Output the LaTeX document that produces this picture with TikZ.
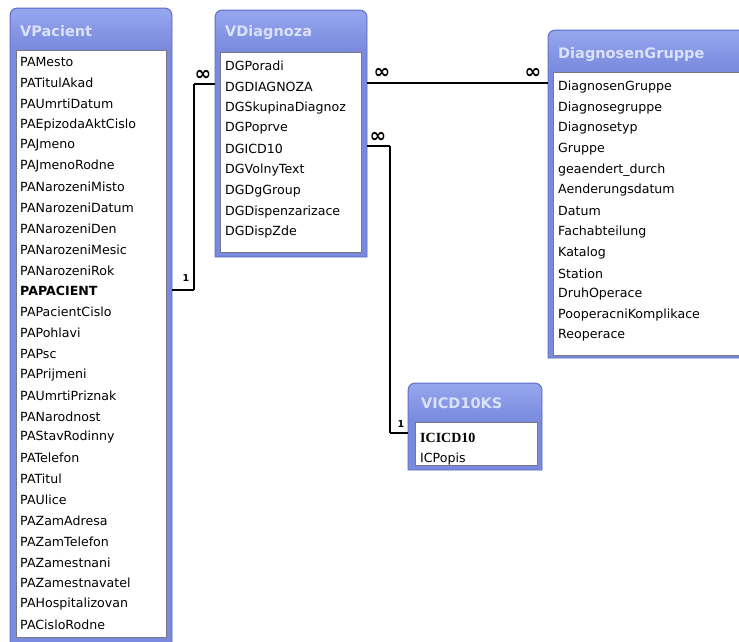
\documentclass[tikz,border=0pt]{standalone}
\usepackage{fontspec}
\setmainfont{DejaVu Sans}
\newfontfamily\serifface{Liberation Serif}
\usetikzlibrary{calc}
\definecolor{frameblue}{RGB}{122,138,222}
\definecolor{framedark}{RGB}{92,108,196}
\definecolor{titletop}{RGB}{150,166,238}
\definecolor{titletxt}{RGB}{218,226,250}
\definecolor{listedge}{RGB}{120,120,130}
\tikzset{
  winnode/.style={anchor=north west, inner sep=0pt, outer sep=0pt, draw=none},
  winframe/.style={fill=frameblue, draw=framedark, line width=0.8pt},
  titleshade/.style={top color=titletop, bottom color=frameblue, draw=none},
  listbox/.style={anchor=north west, inner sep=0pt, outer sep=0pt, fill=white, draw=listedge, line width=0.8pt},
  wintitle/.style={anchor=west, inner sep=0pt, text=titletxt, font=\fontsize{14.5}{16}\selectfont\bfseries},
  field/.style={anchor=west, inner sep=0pt, font=\fontsize{12.6}{14}\selectfont},
  stub/.style={line width=2pt},
  link/.style={line width=1.2pt},
  many/.style={inner sep=0pt, font=\fontsize{20}{20}\selectfont\bfseries},
  one/.style={inner sep=0pt, font=\fontsize{9.5}{9.5}\selectfont\bfseries},
}
\newcommand\winbody[2]{%
  \path[winframe] (#1.south west) [rounded corners=7pt] -- (#1.north west) -- (#1.north east) [sharp corners] -- (#1.south east) -- cycle;
  \path[titleshade] ($(#1.north west)+(1,#2)$) [rounded corners=6pt] -- ($(#1.north west)+(1,1)$) -- ($(#1.north east)+(-1,1)$) [sharp corners] -- ($(#1.north east)+(-1,#2)$) -- cycle;
}
\begin{document}
\begin{tikzpicture}[x=1pt,y=-1pt]
\useasboundingbox[fill=white] (0,0) rectangle (739,641);

% ---------- VPacient ----------
\node[winnode, minimum width=162pt, minimum height=640pt] (vp) at (10,8) {};
\winbody{vp}{40}
\node[wintitle] (vp-title) at (20,31) {VPacient};
\node[listbox, minimum width=150pt, minimum height=587pt] (vp-list) at (16,50) {};
\foreach \t [count=\i from 0] in {PAMesto,PATitulAkad,PAUmrtiDatum,PAEpizodaAktCislo,PAJmeno,PAJmenoRodne,PANarozeniMisto,PANarozeniDatum,PANarozeniDen,PANarozeniMesic,PANarozeniRok,{\bfseries PAPACIENT},PAPacientCislo,PAPohlavi,PAPsc,PAPrijmeni,PAUmrtiPriznak,PANarodnost,PAStavRodinny,PATelefon,PATitul,PAUlice,PAZamAdresa,PAZamTelefon,PAZamestnani,PAZamestnavatel,PAHospitalizovan,PACisloRodne}
  \node[field] (vp-\i) at (20,{62+20.85*\i}) {\t};

% ---------- VDiagnoza ----------
\node[winnode, minimum width=152pt, minimum height=247pt] (vd) at (215,10) {};
\winbody{vd}{40}
\node[wintitle] (vd-title) at (225,33) {VDiagnoza};
\node[listbox, minimum width=141pt, minimum height=200pt] (vd-list) at (220,52) {};
\foreach \t [count=\i from 0] in {DGPoradi,DGDIAGNOZA,DGSkupinaDiagnoz,DGPoprve,DGICD10,DGVolnyText,DGDgGroup,DGDispenzarizace,DGDispZde}
  \node[field] (vd-\i) at (225,{66+20.8*\i}) {\t};

% ---------- DiagnosenGruppe ----------
\node[winnode, minimum width=200pt, minimum height=328pt] (dg) at (548,30) {};
\winbody{dg}{40}
\node[wintitle] (dg-title) at (558,55) {DiagnosenGruppe};
\node[listbox, minimum width=200pt, minimum height=283pt] (dg-list) at (553,72) {};
\foreach \t [count=\i from 0] in {DiagnosenGruppe,Diagnosegruppe,Diagnosetyp,Gruppe,geaendert\_durch,Aenderungsdatum,Datum,Fachabteilung,Katalog,Station,DruhOperace,PooperacniKomplikace,Reoperace}
  \node[field] (dg-\i) at (558,{87+20.7*\i}) {\t};

% ---------- VICD10KS ----------
\node[winnode, minimum width=134pt, minimum height=87pt] (ic) at (408,383) {};
\winbody{ic}{37}
\node[wintitle] (ic-title) at (421,403) {VICD10KS};
\node[listbox, minimum width=122pt, minimum height=43pt] (ic-list) at (415,422) {};
\node[field, font=\fontsize{14}{14}\selectfont\serifface\bfseries] (ic-0) at (420,438) {ICICD10};
\node[field] (ic-1) at (420,459) {ICPopis};

% ---------- relationships ----------
% VPacient.PAPACIENT (1) -- VDiagnoza (many)
\coordinate (c1a) at (194,290);
\coordinate (c1b) at (194,84);
\draw[stub] (vp.east |- c1a) -- (c1a);
\draw[link] (c1a) -- (c1b);
\draw[stub] (c1b) -- (vd.west |- c1b);
\node[one] (l1a) at (186,278) {1};
\node[many] (l1b) at (203,75) {∞};

% VDiagnoza (many) -- DiagnosenGruppe (many)
\coordinate (c2a) at (367,83);
\draw[stub] (vd.east |- c2a) -- (dg.west |- c2a);
\node[many] (l2a) at (382,73) {∞};
\node[many] (l2b) at (533,73) {∞};

% VDiagnoza.DGICD10 (many) -- VICD10KS.ICICD10 (1)
\coordinate (c3a) at (390,146);
\coordinate (c3b) at (390,433);
\draw[stub] (vd.east |- c3a) -- (c3a);
\draw[link] (c3a) -- (c3b);
\draw[stub] (c3b) -- (ic.west |- c3b);
\node[many] (l3a) at (378,137) {∞};
\node[one] (l3b) at (401,424) {1};
\end{tikzpicture}
\end{document}
